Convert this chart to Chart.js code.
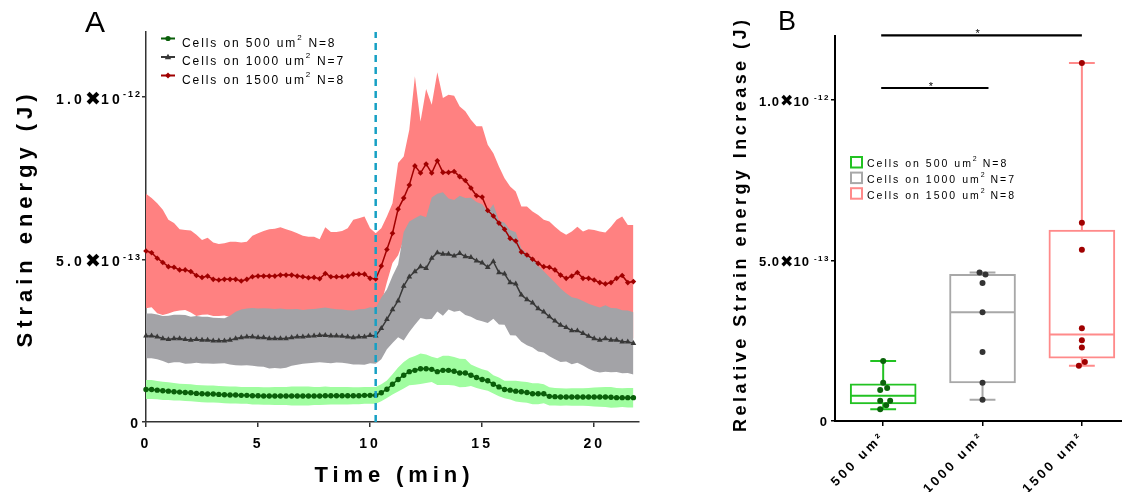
<!DOCTYPE html>
<html>
<head>
<meta charset="utf-8">
<script src="https://cdn.jsdelivr.net/npm/chart.js@4.4.0/dist/chart.umd.min.js"></script>
<style>
  html, body { margin: 0; padding: 0; background: #fff; }
  #wrap { position: relative; width: 1122px; height: 492px; overflow: hidden; }
  #graph_strain { position: absolute; left: 0; top: 0; }
  #graph_increase { position: absolute; left: 700px; top: 0; }
</style>
</head>
<body>
<div id="wrap">
  <canvas id="graph_strain" width="700" height="492"></canvas>
  <canvas id="graph_increase" width="427" height="492"></canvas>
</div>
<script>
// values are in units of 1e-13 J
const UNIT = 1e-13;

// --- panel A: strain energy over time (15 s frames) ---
const TIME_MIN = [0,0.25,0.5,0.75,1,1.25,1.5,1.75,2,2.25,2.5,2.75,3,3.25,3.5,3.75,4,4.25,4.5,4.75,
  5,5.25,5.5,5.75,6,6.25,6.5,6.75,7,7.25,7.5,7.75,8,8.25,8.5,8.75,9,9.25,9.5,9.75,
  10,10.25,10.5,10.75,11,11.25,11.5,11.75,12,12.25,12.5,12.75,13,13.25,13.5,13.75,14,14.25,14.5,14.75,
  15,15.25,15.5,15.75,16,16.25,16.5,16.75,17,17.25,17.5,17.75,18,18.25,18.5,18.75,19,19.25,19.5,19.75,
  20,20.25,20.5,20.75,21,21.25,21.5,21.75];
const STIM_TIME = 10.25;

const green500Mean = [1.00,1.00,0.98,0.96,0.95,0.93,0.92,0.91,0.90,0.88,0.87,0.86,0.86,0.85,0.84,0.83,0.83,0.82,0.82,0.81,
  0.81,0.80,0.80,0.80,0.80,0.80,0.80,0.80,0.80,0.80,0.80,0.80,0.81,0.81,0.81,0.81,0.81,0.81,0.81,0.82,
  0.82,0.82,0.90,1.01,1.16,1.31,1.44,1.55,1.59,1.64,1.64,1.62,1.55,1.59,1.59,1.56,1.51,1.51,1.44,1.37,
  1.31,1.27,1.16,1.08,1.00,0.98,0.95,0.93,0.91,0.87,0.87,0.87,0.79,0.78,0.77,0.77,0.77,0.77,0.77,0.77,
  0.77,0.77,0.77,0.76,0.75,0.75,0.75,0.75];
const green500Sd = [0.29,0.29,0.28,0.28,0.27,0.27,0.26,0.26,0.26,0.26,0.26,0.26,0.26,0.26,0.26,0.26,0.26,0.26,0.26,0.27,
  0.27,0.27,0.27,0.28,0.28,0.28,0.29,0.29,0.29,0.29,0.28,0.28,0.28,0.27,0.27,0.27,0.27,0.26,0.26,0.26,
  0.26,0.26,0.26,0.27,0.31,0.37,0.41,0.42,0.44,0.47,0.44,0.39,0.41,0.45,0.45,0.44,0.44,0.43,0.33,0.32,
  0.31,0.31,0.28,0.29,0.27,0.29,0.32,0.32,0.32,0.32,0.32,0.29,0.28,0.27,0.27,0.26,0.27,0.27,0.27,0.28,
  0.29,0.30,0.31,0.32,0.30,0.29,0.30,0.30];

const gray1000Mean = [2.65,2.65,2.62,2.57,2.54,2.57,2.57,2.54,2.52,2.54,2.52,2.52,2.50,2.50,2.50,2.52,2.57,2.60,2.62,2.62,
  2.60,2.60,2.57,2.57,2.57,2.57,2.60,2.62,2.62,2.64,2.65,2.67,2.67,2.65,2.65,2.64,2.62,2.60,2.62,2.62,
  2.67,2.65,2.88,3.16,3.46,3.73,4.18,4.47,4.63,4.78,4.73,5.04,5.21,5.17,5.17,5.11,5.19,5.09,5.07,4.96,
  4.90,4.76,4.94,4.60,4.56,4.29,4.25,3.91,3.77,3.67,3.49,3.39,3.24,3.11,2.98,2.91,2.81,2.81,2.73,2.64,
  2.57,2.52,2.57,2.52,2.52,2.47,2.47,2.42];
const gray1000Sd = [0.69,0.69,0.69,0.69,0.73,0.73,0.73,0.75,0.72,0.72,0.72,0.72,0.71,0.70,0.69,0.75,0.82,0.86,0.87,0.89,
  0.89,0.90,0.92,0.91,0.92,0.90,0.87,0.86,0.83,0.83,0.83,0.83,0.85,0.84,0.82,0.82,0.82,0.83,0.85,0.86,
  0.86,0.86,0.95,0.92,1.03,1.12,1.67,1.70,1.64,1.58,1.57,1.87,1.81,1.90,1.71,1.72,1.77,1.80,1.83,1.81,
  1.80,1.71,1.76,1.60,1.57,1.62,1.59,1.44,1.41,1.38,1.32,1.25,1.22,1.18,1.13,1.05,1.03,0.99,0.99,1.00,
  1.01,1.00,1.02,0.99,0.98,0.97,0.96,0.96];

const red1500Mean = [5.26,5.21,5.04,4.91,4.78,4.76,4.68,4.68,4.63,4.51,4.45,4.49,4.39,4.37,4.39,4.39,4.39,4.34,4.39,4.47,
  4.49,4.49,4.49,4.49,4.52,4.52,4.52,4.49,4.47,4.44,4.45,4.41,4.57,4.47,4.47,4.47,4.49,4.55,4.55,4.55,
  4.42,4.40,4.80,5.31,5.81,6.55,6.89,7.29,7.88,7.66,7.94,7.66,8.04,7.68,7.68,7.71,7.55,7.43,7.20,6.96,
  6.92,6.51,6.34,6.12,5.93,5.65,5.57,5.23,5.14,5.01,4.88,4.78,4.76,4.68,4.52,4.42,4.49,4.60,4.42,4.42,
  4.37,4.29,4.25,4.29,4.42,4.51,4.29,4.32];
const red1500Sd = [1.76,1.68,1.69,1.62,1.44,1.36,1.25,1.23,1.26,1.25,1.15,1.18,1.13,1.11,1.11,1.16,1.16,1.18,1.16,1.26,
  1.32,1.39,1.44,1.46,1.47,1.41,1.36,1.32,1.26,1.26,1.25,1.21,1.42,1.38,1.38,1.41,1.47,1.67,1.72,1.77,
  1.54,1.41,1.16,1.01,0.92,1.42,1.28,1.70,2.76,1.59,2.31,2.10,2.72,2.29,2.39,2.33,2.16,2.13,2.10,2.14,
  2.18,2.02,1.93,1.74,1.57,1.60,1.52,1.40,1.49,1.47,1.49,1.44,1.41,1.33,1.34,1.34,1.37,1.41,1.44,1.51,
  1.54,1.57,1.58,1.72,1.80,1.81,1.77,1.74];

// --- panel B: relative increase per cell ---
const GROUP_LABELS = ['500 um\u00b2', '1000 um\u00b2', '1500 um\u00b2'];
const pts500 = [1.87, 1.19, 1.03, 0.97, 0.63, 0.63, 0.49, 0.37];
const jit500 = [0, 0, 0.04, -0.03, -0.03, 0.07, 0.03, -0.03];
const pts1000 = [4.63, 4.57, 4.30, 3.39, 2.15, 1.19, 0.66];
const jit1000 = [-0.03, 0.03, 0, 0, 0, 0, 0];
const pts1500 = [11.16, 6.18, 5.34, 2.89, 2.52, 2.29, 1.84, 1.72];
const jit1500 = [0, 0, 0, 0, 0, 0, 0.03, -0.03];
const BOX_MIN = [0.37, 0.66, 1.72];
const BOX_Q1  = [0.53, 1.19, 1.96];
const BOX_MED = [0.79, 3.39, 2.70];
const BOX_Q3  = [1.16, 4.57, 5.95];
const BOX_MAX = [1.87, 4.63, 11.16];
const SIG_X = [[-0.02, 2.0], [-0.02, 1.06]];
const SIG_Y = [12.02, 10.38];

const FONT = "'Liberation Sans', Arial, sans-serif";
Chart.defaults.font.family = FONT;

const GREEN = { band: '#a0fda0', line: '#0a5f0a', box: '#22c222', dot: '#0a640a' };
const GRAY  = { band: '#a3a3a7', line: '#383838', box: '#a8a8a8', dot: '#333333' };
const RED   = { band: '#ff8181', line: '#a00000', box: '#ff8a8a', dot: '#a00000' };

// text with several font pieces (superscripts)
function drawRich(ctx, x, y, segs, align) {
  const w = segs.map(s => { ctx.font = s.font; ctx.letterSpacing = (s.ls || 0) + 'px'; return ctx.measureText(s.text).width + (s.dx || 0); });
  const total = w.reduce((a, b) => a + b, 0);
  let cx = align === 'right' ? x - total : (align === 'center' ? x - total / 2 : x);
  ctx.textAlign = 'left';
  ctx.textBaseline = 'middle';
  segs.forEach((s, i) => {
    ctx.font = s.font; ctx.letterSpacing = (s.ls || 0) + 'px';
    ctx.fillText(s.text, cx + (s.dx || 0), y + (s.dy || 0));
    cx += w[i];
  });
  ctx.letterSpacing = '0px';
}

// stretch a title to the width it has in the picture
function drawFitted(ctx, text, font, cx, cy, width, rotate) {
  ctx.save();
  ctx.translate(cx, cy);
  if (rotate) ctx.rotate(-Math.PI / 2);
  ctx.font = font; ctx.letterSpacing = '0px';
  const w0 = ctx.measureText(text).width;
  ctx.letterSpacing = ((width - w0) / (text.length - 1)) + 'px';
  ctx.textAlign = 'left'; ctx.textBaseline = 'middle'; ctx.fillStyle = '#000';
  ctx.fillText(text, -width / 2, 0);
  ctx.restore();
  ctx.letterSpacing = '0px';
}

function drawSciTicks(ctx, scale, o) {
  ctx.fillStyle = '#000';
  scale.ticks.forEach(t => {
    const y = scale.getPixelForValue(t.value);
    if (t.value === 0) {
      drawRich(ctx, scale.right - o.zeroGap, y + o.zeroDy, [{ text: '0', font: o.main }], 'right');
      return;
    }
    const v = t.value * UNIT;
    const e = Math.floor(Math.log10(v) + 1e-9);
    const m = (v / Math.pow(10, e)).toFixed(1);
    drawRich(ctx, scale.right - o.gap, y + o.dy, [
      { text: m, font: o.main, ls: o.ls },
      { text: '\u2716', font: o.times, ls: 0 },
      { text: '10', font: o.main, ls: o.ls },
      { text: String(e), font: o.sup, ls: o.supLs, dy: o.supDy, dx: o.supDx }
    ], 'right');
  });
}

function spacing(px) {
  return {
    id: 'spacing',
    beforeDraw(chart) { chart.ctx.letterSpacing = px + 'px'; },
    afterDatasetsDraw(chart) { chart.ctx.letterSpacing = px + 'px'; }
  };
}

const pts = (arr) => TIME_MIN.map((t, i) => ({ x: t, y: arr[i] }));
const edge = (mean, sd, sign) => TIME_MIN.map((t, i) => ({ x: t, y: mean[i] + sign * sd[i] }));

function meanLine(arr, c, style, r) {
  return { data: pts(arr), borderColor: c.line, backgroundColor: c.line, borderWidth: 1.5,
    pointStyle: style, pointRadius: r, pointBorderWidth: 0, pointBackgroundColor: c.line, clip: false };
}
function bandEdge(mean, sd, sign, c) {
  return { data: edge(mean, sd, sign), borderWidth: 0, borderColor: 'transparent', pointRadius: 0,
    backgroundColor: c.band, fill: sign > 0 ? '+1' : false };
}

// legend entry of panel A
function legendA(ctx, y, c, style, label) {
  ctx.strokeStyle = c.line; ctx.lineWidth = 2;
  ctx.beginPath(); ctx.moveTo(161, y); ctx.lineTo(175, y); ctx.stroke();
  ctx.fillStyle = c.line;
  ctx.beginPath();
  if (style === 'circle') ctx.arc(168, y, 2.6, 0, Math.PI * 2);
  else if (style === 'triangle') { ctx.moveTo(168, y - 3.2); ctx.lineTo(171.2, y + 2.2); ctx.lineTo(164.8, y + 2.2); }
  else { ctx.moveTo(168, y - 3); ctx.lineTo(171, y); ctx.lineTo(168, y + 3); ctx.lineTo(165, y); }
  ctx.fill();
  ctx.fillStyle = '#000';
  drawRich(ctx, 182, y + 5, [
    { text: 'Cells on ' + label + ' um', font: '12px ' + FONT, ls: 1.9 },
    { text: '2', font: '8px ' + FONT, ls: 1.5, dy: -6 },
    { text: ' N=' + (label === '1000' ? 7 : 8), font: '12px ' + FONT, ls: 1.9 }
  ], 'left');
}

const decorA = {
  id: 'decorA',
  afterDraw(chart) {
    const ctx = chart.ctx;
    ctx.save();
    ctx.letterSpacing = '0px';
    ctx.fillStyle = '#000';
    ctx.font = '30px ' + FONT; ctx.textAlign = 'left'; ctx.textBaseline = 'alphabetic';
    ctx.fillText('A', 85, 32);
    drawFitted(ctx, 'Strain energy (J)', 'bold 22px ' + FONT, 26, 221, 253, true);
    drawFitted(ctx, 'Time (min)', 'bold 22px ' + FONT, 392, 476, 155, false);
    drawSciTicks(ctx, chart.scales.y, { main: 'bold 14px ' + FONT, times: 'bold 19px "DejaVu Sans"',
      sup: 'bold 9px ' + FONT, ls: 3.2, supLs: 2,
      gap: 4, dy: 3, supDy: -5, supDx: 0, zeroGap: 8, zeroDy: 2 });
    legendA(ctx, 38.5, GREEN, 'circle', '500');
    legendA(ctx, 57, GRAY, 'triangle', '1000');
    legendA(ctx, 75.5, RED, 'rectRot', '1500');
    ctx.restore();
  }
};

new Chart(document.getElementById('graph_strain'), {
  type: 'line',
  data: {
    datasets: [
      { data: [{ x: STIM_TIME, y: 0 }, { x: STIM_TIME, y: 12 }], borderColor: '#17a0c4', borderWidth: 2.5,
        borderDash: [7, 5], pointRadius: 0, clip: false },
      meanLine(green500Mean, GREEN, 'circle', 2.7),
      meanLine(gray1000Mean, GRAY, 'triangle', 3.3),
      meanLine(red1500Mean, RED, 'rectRot', 2.8),
      bandEdge(green500Mean, green500Sd, 1, GREEN),
      bandEdge(green500Mean, green500Sd, -1, GREEN),
      bandEdge(gray1000Mean, gray1000Sd, 1, GRAY),
      bandEdge(gray1000Mean, gray1000Sd, -1, GRAY),
      bandEdge(red1500Mean, red1500Sd, 1, RED),
      bandEdge(red1500Mean, red1500Sd, -1, RED)
    ]
  },
  options: {
    responsive: false,
    animation: false,
    layout: { padding: { top: 32, right: 61, left: 0, bottom: 0 } },
    elements: { line: { tension: 0 } },
    plugins: { legend: { display: false }, tooltip: { enabled: false } },
    scales: {
      x: {
        type: 'linear', min: 0, max: 22, offset: false,
        afterFit(s) { s.height = 70; s.paddingLeft = 0; s.paddingRight = 0; },
        ticks: { stepSize: 5, includeBounds: false, maxRotation: 0, color: '#000', padding: 9,
          font: { size: 14, weight: 'bold' } },
        grid: { drawOnChartArea: false, tickLength: 5, color: '#333', lineWidth: 1.5 },
        border: { color: '#333', width: 1.5 }
      },
      y: {
        min: 0, max: 12,
        afterFit(s) { s.width = 146; },
        ticks: { stepSize: 5, includeBounds: false, display: false },
        grid: { drawOnChartArea: false, tickLength: 4, color: '#333', lineWidth: 1.5 },
        border: { color: '#333', width: 1.5 }
      }
    }
  },
  plugins: [spacing(3), decorA]
});

// ---------- panel B ----------
const CAP = 0.13, HALF = 0.325;
function whiskers(g) {
  return [
    { x: g - CAP, y: BOX_MAX[g] }, { x: g + CAP, y: BOX_MAX[g] }, { x: g, y: null },
    { x: g, y: BOX_MAX[g] }, { x: g, y: BOX_Q3[g] }, { x: g, y: null },
    { x: g - HALF, y: BOX_MED[g] }, { x: g + HALF, y: BOX_MED[g] }, { x: g, y: null },
    { x: g, y: BOX_Q1[g] }, { x: g, y: BOX_MIN[g] }, { x: g, y: null },
    { x: g - CAP, y: BOX_MIN[g] }, { x: g + CAP, y: BOX_MIN[g] }
  ];
}
const COLORS_B = [GREEN, GRAY, RED];
const POINTS_B = [[pts500, jit500], [pts1000, jit1000], [pts1500, jit1500]];

const datasetsB = [];
POINTS_B.forEach(([vals, jit], g) => datasetsB.push({
  type: 'scatter', order: 0, data: vals.map((v, i) => ({ x: g + jit[i], y: v })),
  pointRadius: 3, pointBorderWidth: 0, pointBackgroundColor: COLORS_B[g].dot, clip: false
}));
COLORS_B.forEach((c, g) => datasetsB.push({
  type: 'line', order: 1, data: whiskers(g), borderColor: c.box, borderWidth: 2,
  pointRadius: 0, spanGaps: false, fill: false, clip: false
}));
SIG_X.forEach((sx, k) => datasetsB.push({
  type: 'line', order: 1, data: [{ x: sx[0], y: SIG_Y[k] }, { x: sx[1], y: SIG_Y[k] }],
  borderColor: '#000', borderWidth: 2.2, pointRadius: 0, fill: false, clip: false
}));
datasetsB.push({
  type: 'bar', order: 2,
  data: BOX_Q1.map((q, g) => ({ x: g, y: [q, BOX_Q3[g]] })),
  backgroundColor: '#ffffff', borderColor: COLORS_B.map(c => c.box), borderWidth: 2,
  borderSkipped: false, barThickness: 66
});

const decorB = {
  id: 'decorB',
  afterDraw(chart) {
    const ctx = chart.ctx;
    const xs = chart.scales.x, ys = chart.scales.y;
    ctx.save();
    ctx.letterSpacing = '0px';
    ctx.fillStyle = '#000';
    ctx.font = '27px ' + FONT; ctx.textAlign = 'left'; ctx.textBaseline = 'alphabetic';
    ctx.fillText('B', 78, 30);
    drawFitted(ctx, 'Relative Strain energy Increase (J)', 'bold 18px ' + FONT, 41, 226, 412, true);
    drawSciTicks(ctx, ys, { main: 'bold 13px ' + FONT, times: 'bold 16px "DejaVu Sans"',
      sup: 'bold 8px ' + FONT, ls: 1, supLs: 1.5,
      gap: 5, dy: 2, supDy: -4, supDx: 4, zeroGap: 8, zeroDy: 1 });
    // significance stars
    ctx.font = '11px ' + FONT; ctx.textAlign = 'center'; ctx.textBaseline = 'middle';
    SIG_X.forEach((sx, k) => {
      ctx.fillText('*', xs.getPixelForValue((sx[0] + sx[1]) / 2) - 4, ys.getPixelForValue(SIG_Y[k]) - 1);
    });
    // legend
    COLORS_B.forEach((c, k) => {
      const y = 156 + k * 15.6;
      ctx.strokeStyle = c.box; ctx.lineWidth = 2;
      ctx.strokeRect(151, y + 1, 11, 10.5);
      ctx.fillStyle = '#000';
      drawRich(ctx, 167, y + 8.5, [
        { text: 'Cells on ' + ['500', '1000', '1500'][k] + ' um', font: '10.5px ' + FONT, ls: 2 },
        { text: '2', font: '7px ' + FONT, ls: 1, dy: -5 },
        { text: ' N=' + (k === 1 ? 7 : 8), font: '10.5px ' + FONT, ls: 2 }
      ], 'left');
    });
    ctx.restore();
  }
};

new Chart(document.getElementById('graph_increase'), {
  type: 'scatter',
  data: { datasets: datasetsB },
  options: {
    responsive: false,
    animation: false,
    layout: { padding: { top: 36, right: 0, left: 0, bottom: 0 } },
    plugins: { legend: { display: false }, tooltip: { enabled: false } },
    scales: {
      x: {
        type: 'linear', min: -0.485, max: 2.414, offset: false,
        afterBuildTicks(s) { s.ticks = [0, 1, 2].map(v => ({ value: v })); },
        afterFit(s) { s.height = 71; s.paddingLeft = 0; s.paddingRight = 0; },
        ticks: { callback: v => GROUP_LABELS[v], minRotation: 45, maxRotation: 45, color: '#000', padding: 3,
          font: { size: 13, weight: 'bold' } },
        grid: { drawOnChartArea: false, offset: false, tickLength: 5, color: '#000', lineWidth: 1.5 },
        border: { color: '#000', width: 2 }
      },
      y: {
        min: 0, max: 12,
        afterFit(s) { s.width = 135; },
        ticks: { stepSize: 5, includeBounds: false, display: false },
        grid: { drawOnChartArea: false, tickLength: 4, color: '#000', lineWidth: 1.5 },
        border: { color: '#000', width: 2 }
      }
    }
  },
  plugins: [spacing(3), decorB]
});
</script>
</body>
</html>
